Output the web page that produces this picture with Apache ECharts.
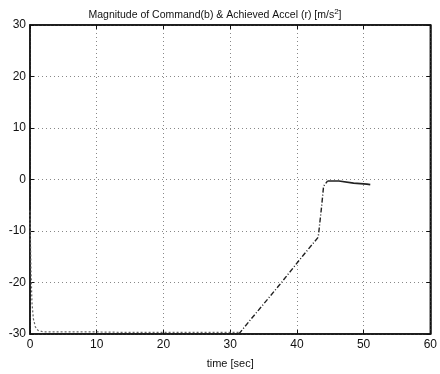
<!DOCTYPE html>
<html>
<head>
<meta charset="utf-8">
<script src="https://cdn.jsdelivr.net/npm/echarts@6/dist/echarts.min.js"></script>
<style>
  html, body { margin: 0; padding: 0; background: #fff; }
  #chart { width: 440px; height: 374px; }
</style>
</head>
<body>
<div id="chart"></div>
<script>
// Axis ticks
const xTicks = [0, 10, 20, 30, 40, 50, 60];
const yTicks = [-30, -20, -10, 0, 10, 20, 30];

// Commanded acceleration magnitude (b), m/s^2
const cmdTime = [0, 0.15, 0.3, 0.5, 0.8, 1.2, 2, 5, 10, 15, 20, 25, 31.3];
const cmdVal  = [-6, -18, -24, -27, -28.6, -29.3, -29.6, -29.6, -29.6, -29.7, -29.7, -29.7, -29.7];

// Achieved acceleration (r): linear build-up
const rampTime = [31.3, 33.0, 35.0, 37.5, 40.9, 43.2, 43.7, 44.0, 44.6];
const rampVal  = [-30, -27.3, -24.2, -20.3, -14.8, -11.2, -5.3, -1.3, -0.3];

// Achieved acceleration (r): settled tail
const tailTime = [44.6, 46.3, 48.5, 50.5, 51.0];
const tailVal  = [-0.3, -0.3, -0.7, -0.9, -1.0];

const pairs = (t, v) => t.map((x, i) => [x, v[i]]);

const FONT = 'Liberation Sans, Arial, sans-serif';
const gridLine = { show: true, lineStyle: { color: '#888', type: [1, 3], width: 1 } };
const frameLine = { show: true, onZero: false, lineStyle: { color: '#111', width: 1.5 } };
const tick = { show: true, inside: true, length: 4, lineStyle: { color: '#111' } };

const chart = echarts.init(document.getElementById('chart'), null, { renderer: 'canvas' });
chart.setOption({
  animation: false,
  backgroundColor: '#fff',
  title: {
    text: 'Magnitude of Command(b) & Achieved Accel (r) [m/s{s|2}]',
    left: 210, top: 3, textAlign: 'center',
    textStyle: {
      fontFamily: FONT, fontSize: 10.5, fontWeight: 'normal', color: '#111',
      rich: { s: { fontFamily: FONT, fontSize: 8, verticalAlign: 'top', padding: [0, 0, 6, 0], color: '#111' } }
    }
  },
  grid: { left: 30, right: 4, top: 25, bottom: 40, show: true, borderColor: '#111', borderWidth: 1.5 },
  xAxis: [{
    type: 'value', min: xTicks[0], max: xTicks[xTicks.length - 1], interval: 10,
    name: 'time [sec]', nameLocation: 'middle', nameGap: 24,
    nameTextStyle: { fontFamily: FONT, fontSize: 11, color: '#111' },
    axisLine: frameLine, axisTick: tick,
    axisLabel: { fontFamily: FONT, fontSize: 12, color: '#111', margin: 5 },
    splitLine: gridLine
  }, {
    type: 'value', position: 'top', min: xTicks[0], max: xTicks[xTicks.length - 1], interval: 10,
    axisLine: frameLine, axisTick: tick,
    axisLabel: { show: false }, splitLine: { show: false }
  }],
  yAxis: [{
    type: 'value', min: yTicks[0], max: yTicks[yTicks.length - 1], interval: 10,
    axisLine: frameLine, axisTick: tick,
    axisLabel: { fontFamily: FONT, fontSize: 12, color: '#111', margin: 4 },
    splitLine: gridLine
  }, {
    type: 'value', position: 'right', min: yTicks[0], max: yTicks[yTicks.length - 1], interval: 10,
    axisLine: frameLine, axisTick: tick,
    axisLabel: { show: false }, splitLine: { show: false }
  }],
  series: [{
    name: 'Command (b)', type: 'line', showSymbol: false,
    data: pairs(cmdTime, cmdVal),
    lineStyle: { color: '#666', width: 1.2, type: [2, 2] }
  }, {
    name: 'Achieved (r) ramp', type: 'line', showSymbol: false,
    data: pairs(rampTime, rampVal),
    lineStyle: { color: '#222', width: 1.4, type: [5, 2, 1, 2] }
  }, {
    name: 'Achieved (r) settled', type: 'line', showSymbol: false,
    data: pairs(tailTime, tailVal),
    lineStyle: { color: '#222', width: 1.6 }
  }]
});
</script>
</body>
</html>
